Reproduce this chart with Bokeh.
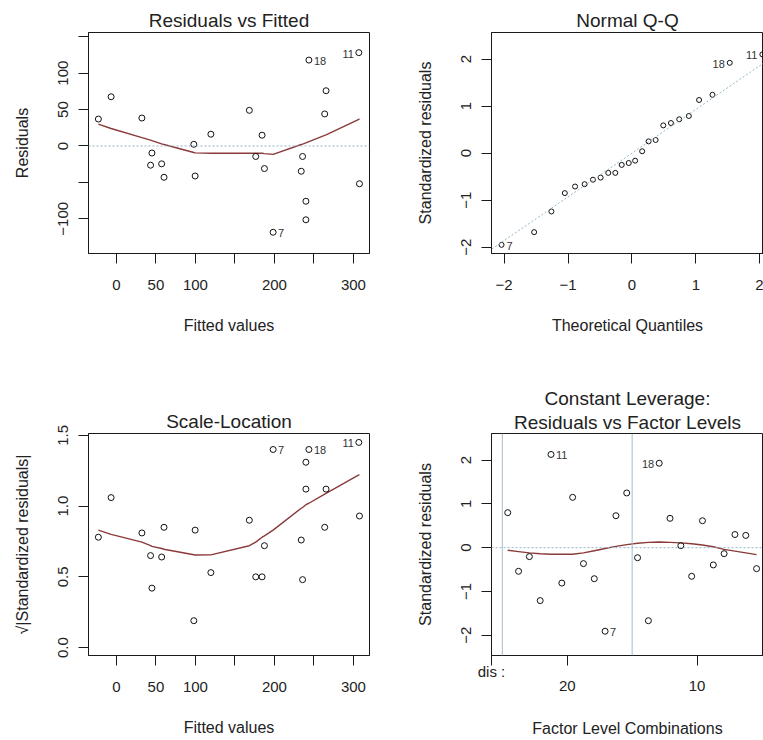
from bokeh.plotting import figure
from bokeh.models import FixedTicker, Range1d, Span, Slope, Title
from bokeh.layouts import column, row
from bokeh.embed import file_html
from bokeh.resources import INLINE
from bokeh.core.properties import value

FONT = "Liberation Sans"
TXT = "#222222"
BOX = "#1a1a1a"
SMOOTH = "#8b3a3a"
REF = "#93b6ca"

# ---------------- data ----------------
fitted = [-22.9, -6.8, 32.2, 44.9, 43.2, 57.2, 60.2, 97.9, 99.6, 119.5, 168.2, 176.3,
          184.3, 187.3, 198.3, 235.6, 233.9, 239.8, 239.8, 243.6, 263.6, 265.3, 306.8, 307.6]
residuals = [37, 67.6, 38.4, -9.7, -26.4, -24.5, -43, 2.3, -41.2, 16.2, 49, -14.4,
             14.8, -31, -118.5, -14.4, -34.7, -75.9, -101.4, 118, 44, 75.9, 128.2, -51.9]
sqrt_std = [0.78, 1.06, 0.81, 0.42, 0.65, 0.64, 0.85, 0.19, 0.83, 0.53, 0.90, 0.50,
            0.50, 0.72, 1.40, 0.48, 0.76, 1.12, 1.31, 1.40, 0.85, 1.12, 1.45, 0.93]
# lowess smooths, in order of increasing fitted value
smooth_resid = [30, 24, 11.5, 8, 7.3, 3, 2, -9, -9.5, -10, -10, -10,
                -10, -10.5, -11.5, 2, 2.6, 4.4, 4.4, 6, 14.5, 15.2, 36.5, 37.5]
smooth_scale = [0.83, 0.80, 0.745, 0.72, 0.715, 0.70, 0.695, 0.656, 0.654, 0.655, 0.72, 0.745,
                0.78, 0.79, 0.83, 0.985, 0.99, 1.01, 1.01, 1.02, 1.085, 1.09, 1.22, 1.22]

qq_theo = [-2.04, -1.53, -1.26, -1.05, -0.89, -0.74, -0.61, -0.49, -0.37, -0.26, -0.16, -0.05,
           0.05, 0.16, 0.26, 0.37, 0.49, 0.61, 0.74, 0.89, 1.05, 1.26, 1.53, 2.04]
qq_std = [-1.95, -1.68, -1.24, -0.85, -0.71, -0.66, -0.565, -0.52, -0.42, -0.42, -0.25, -0.21,
          -0.16, 0.04, 0.25, 0.28, 0.59, 0.64, 0.72, 0.79, 1.13, 1.24, 1.92, 2.10]
qq_slope = 0.93
qq_intercept = 0.0

lev_std = [0.80, -0.54, -0.205, -1.21, 2.13, -0.81, 1.15, -0.365, -0.71, -1.91, 0.73, 1.25,
           -0.23, -1.67, 1.93, 0.67, 0.045, -0.655, 0.615, -0.395, -0.137, 0.30, 0.28, -0.48]
lev_smooth = [-0.06, -0.09, -0.12, -0.14, -0.15, -0.15, -0.15, -0.12, -0.07, -0.02, 0.03, 0.07,
              0.10, 0.12, 0.13, 0.12, 0.11, 0.09, 0.06, 0.02, -0.04, -0.08, -0.12, -0.16]
factor_name = "dis"
factor_levels = ["20", "10"]
level_size = 12

# labelled observations: (id, index into the arrays, side)
lab_fit = [("7", 14, "r"), ("18", 19, "r"), ("11", 22, "l")]
lab_qq = [("7", 0, "r"), ("18", 22, "l"), ("11", 23, "l")]
lab_lev = [("11", 4, "r"), ("7", 9, "r"), ("18", 14, "l")]


def make_fig(w, h, xr, yr, left, right, top, bottom):
    p = figure(width=w, height=h, x_range=Range1d(*xr), y_range=Range1d(*yr),
               output_backend="svg", toolbar_location=None,
               min_border_left=left, min_border_right=right,
               min_border_top=top, min_border_bottom=bottom)
    p.outline_line_color = BOX
    p.outline_line_width = 1
    p.outline_line_alpha = 1
    p.xgrid.visible = False
    p.ygrid.visible = False
    p.background_fill_color = "white"
    p.border_fill_color = "white"
    for ax in (p.xaxis[0], p.yaxis[0]):
        ax.major_tick_out = 10
        ax.major_tick_in = 0
        ax.minor_tick_out = 0
        ax.minor_tick_in = 0
        ax.axis_line_color = BOX
        ax.major_tick_line_color = BOX
        ax.major_label_text_font = FONT
        ax.major_label_text_font_size = "15px"
        ax.major_label_text_color = TXT
        ax.axis_label_text_font = FONT
        ax.axis_label_text_font_size = "16px"
        ax.axis_label_text_font_style = "normal"
        ax.axis_label_text_color = TXT
    p.xaxis[0].major_label_standoff = 16
    p.xaxis[0].axis_label_standoff = 24
    p.yaxis[0].major_label_standoff = 10
    p.yaxis[0].axis_label_standoff = 25
    p.yaxis[0].major_label_orientation = "vertical"
    p.title.align = "center"
    p.title.text_font = FONT
    p.title.text_font_size = "19px"
    p.title.text_font_style = "normal"
    p.title.text_color = TXT
    p.title.standoff = 4
    return p


def points(p, xs, ys, size=6):
    p.scatter(xs, ys, marker="circle", size=size, fill_color=None,
              line_color="#111111", line_width=1)


def id_labels(p, xs, ys, labs):
    for side in ("r", "l"):
        sel = [(t, i) for t, i, s in labs if s == side]
        if not sel:
            continue
        p.text(x=[xs[i] for t, i in sel], y=[ys[i] for t, i in sel], text=[t for t, i in sel],
               x_offset=5 if side == "r" else -5, y_offset=1,
               text_align="left" if side == "r" else "right", text_baseline="middle",
               text_font=value(FONT), text_font_size="11px", text_color="#333333")


sorted_fit = sorted(fitted)

# ---- Residuals vs Fitted ----
p1 = make_fig(380, 370, (-35.4, 320.3), (-147.7, 155.9), 88, 11, 32, 117)
p1.title.text = "Residuals vs Fitted"
p1.xaxis.axis_label = "Fitted values"
p1.yaxis.axis_label = "Residuals"
p1.xaxis.ticker = FixedTicker(ticks=[0, 50, 100, 150, 200, 250, 300])
p1.xaxis.major_label_overrides = {150: "", 250: ""}
p1.yaxis.ticker = FixedTicker(ticks=[-100, -50, 0, 50, 100, 150])
p1.yaxis.major_label_overrides = {-50: "", 150: ""}
p1.add_layout(Span(location=0, dimension="width", line_color=REF, line_dash="2 2", line_width=1))
p1.line(sorted_fit, smooth_resid, line_color=SMOOTH, line_width=1.4)
points(p1, fitted, residuals)
id_labels(p1, fitted, residuals, lab_fit)

# ---- Normal Q-Q ----
p2 = make_fig(383, 370, (-2.197, 2.058), (-2.134, 2.565), 111, 0, 32, 117)
p2.title.text = "Normal Q-Q"
p2.xaxis.axis_label = "Theoretical Quantiles"
p2.yaxis.axis_label = "Standardized residuals"
p2.xaxis.ticker = FixedTicker(ticks=[-2, -1, 0, 1, 2])
p2.yaxis.ticker = FixedTicker(ticks=[-2, -1, 0, 1, 2])
p2.add_layout(Slope(gradient=qq_slope, y_intercept=qq_intercept, line_color=REF,
                    line_dash="2 2", line_width=1))
points(p2, qq_theo, qq_std, size=5)
id_labels(p2, qq_theo, qq_std, lab_qq)

# ---- Scale-Location ----
p3 = make_fig(380, 370, (-35.4, 320.3), (-0.056, 1.513), 88, 11, 63, 85)
p3.title.text = "Scale-Location"
p3.xaxis.axis_label = "Fitted values"
p3.yaxis.axis_label = "\u221a|Standardized residuals|"
p3.xaxis.ticker = FixedTicker(ticks=[0, 50, 100, 150, 200, 250, 300])
p3.xaxis.major_label_overrides = {150: "", 250: ""}
p3.yaxis.ticker = FixedTicker(ticks=[0.0, 0.5, 1.0, 1.5])
p3.yaxis.major_label_overrides = {0: "0.0", 0.5: "0.5", 1: "1.0", 1.5: "1.5"}
p3.line(sorted_fit, smooth_scale, line_color=SMOOTH, line_width=1.4)
points(p3, fitted, sqrt_std)
id_labels(p3, fitted, sqrt_std, lab_fit)

# ---- Constant Leverage ----
idx = list(range(len(lev_std)))
x4 = (-1.5, 23.64)
p4 = make_fig(383, 370, x4, (-2.465, 2.609), 111, 0, 63, 85)
p4.title.text = "Constant Leverage:"
p4.title.standoff = 0
p4.add_layout(Title(text="Residuals vs Factor Levels", align="center", text_font=FONT,
                    text_font_size="19px", text_font_style="normal", text_color=TXT,
                    standoff=2), "above")
p4.xaxis.axis_label = "Factor Level Combinations"
p4.yaxis.axis_label = "Standardized residuals"
level_ticks = [level_size * (k + 0.5) - 0.5 for k in range(len(factor_levels))]
name_pos = x4[0]  # factor name sits at the left corner of the box
p4.xaxis.ticker = FixedTicker(ticks=[name_pos] + level_ticks)
overrides = {name_pos: factor_name + " :"}
overrides.update({t: "\n" + lab for t, lab in zip(level_ticks, factor_levels)})
p4.xaxis.major_label_overrides = overrides
p4.xaxis.major_label_text_line_height = 0.88
p4.xaxis.major_label_standoff = -3
p4.xaxis.axis_label_standoff = 23
p4.yaxis.ticker = FixedTicker(ticks=[-2, -1, 0, 1, 2])
for k in range(len(factor_levels)):
    p4.add_layout(Span(location=level_size * k - 0.5, dimension="height",
                       line_color="#a9bcc8", line_width=1))
p4.add_layout(Span(location=0, dimension="width", line_color=REF, line_dash="2 2", line_width=1))
p4.line(idx, lev_smooth, line_color=SMOOTH, line_width=1.4)
points(p4, idx, lev_std)
id_labels(p4, idx, lev_std, lab_lev)

layout = column(row(p1, p2), row(p3, p4))
open("out.html", "w").write(file_html(layout, INLINE))
